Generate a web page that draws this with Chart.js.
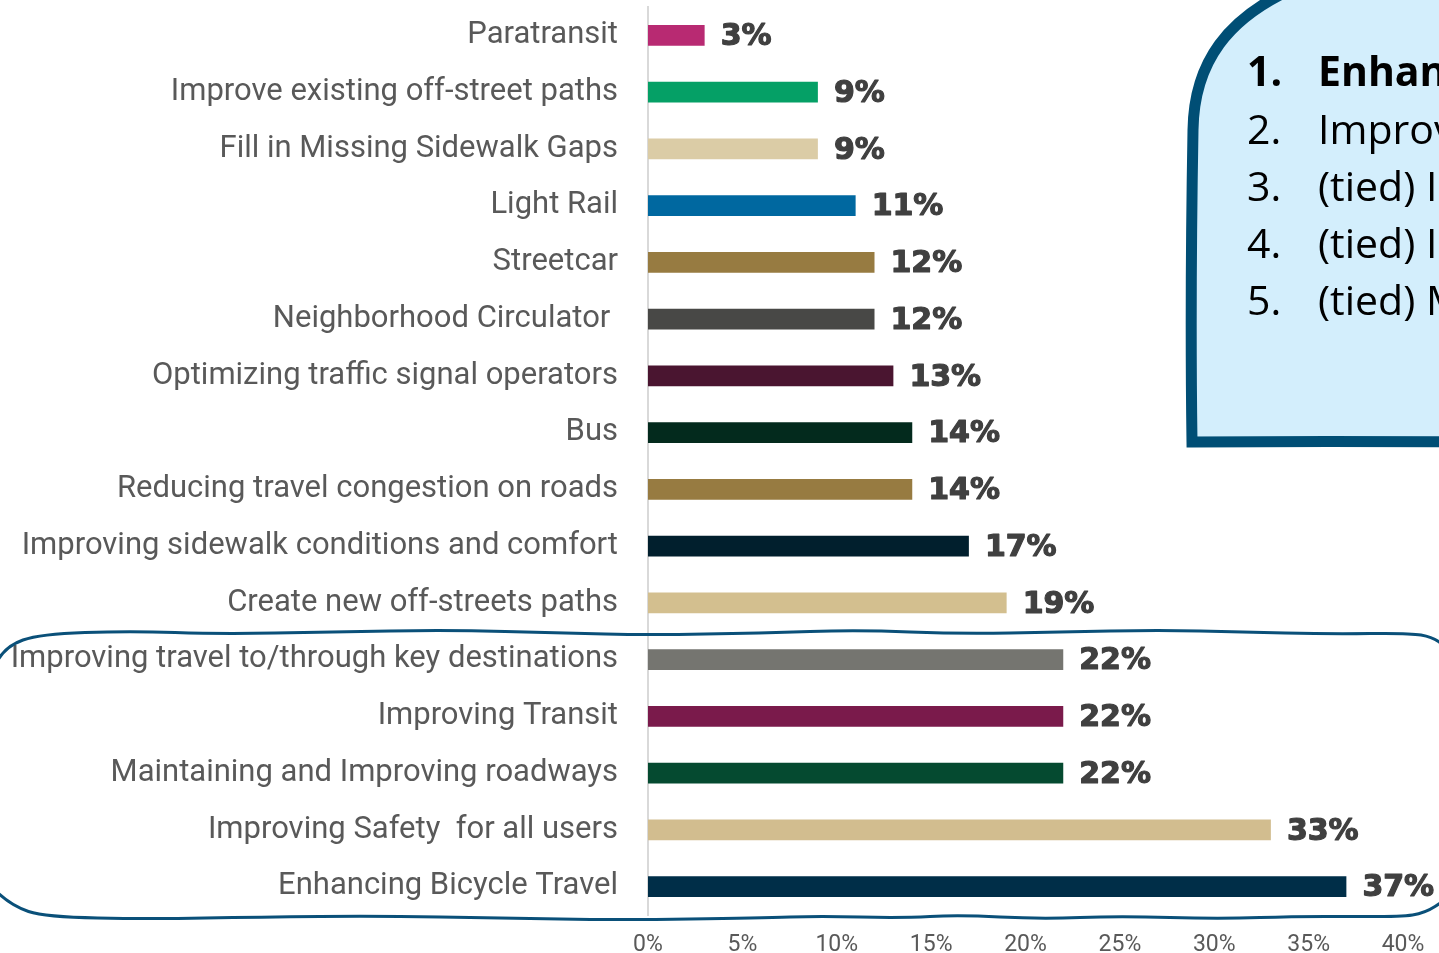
<!DOCTYPE html>
<html>
<head>
<meta charset="utf-8">
<script src="https://cdn.jsdelivr.net/npm/chart.js@4.4.0/dist/chart.umd.min.js"></script>
<style>
  html, body { margin:0; padding:0; background:#fff; overflow:hidden; }
  #wrap { position:relative; width:1439px; height:953px; overflow:hidden; }
  #chart { position:absolute; left:0; top:0; }
  .rank { position:absolute; left:1247px; font-family:'Open Sans', sans-serif; font-size:41px; color:#000; white-space:nowrap; line-height:1; }
  .rank span { display:inline-block; width:71px; }
  .rank.b { font-weight:bold; }
</style>
</head>
<body>
<div id="wrap">
  <canvas id="chart" width="1439" height="953"></canvas>
  <div class="rank b" style="top:50px"><span>1.</span>Enhancing Bicycle Travel</div>
  <div class="rank" style="top:108px"><span>2.</span>Improving Safety for all users</div>
  <div class="rank" style="top:165px"><span>3.</span>(tied) Improving travel to/through key destinations</div>
  <div class="rank" style="top:222px"><span>4.</span>(tied) Improving Transit</div>
  <div class="rank" style="top:279px"><span>5.</span>(tied) Maintaining and Improving roadways</div>
</div>
<script>
var categories = [
  'Paratransit',
  'Improve existing off-street paths',
  'Fill in Missing Sidewalk Gaps',
  'Light Rail',
  'Streetcar',
  'Neighborhood Circulator ',
  'Optimizing traffic signal operators',
  'Bus',
  'Reducing travel congestion on roads',
  'Improving sidewalk conditions and comfort',
  'Create new off-streets paths',
  'Improving travel to/through key destinations',
  'Improving Transit',
  'Maintaining and Improving roadways',
  'Improving Safety  for all users',
  'Enhancing Bicycle Travel'
];
var shares = [3, 9, 9, 11, 12, 12, 13, 14, 14, 17, 19, 22, 22, 22, 33, 37];
var barColors = ['#B82A72','#05A066','#DBCCA6','#0068A0','#977B41','#484846','#4A1530','#032A1D',
                 '#977B41','#011F2D','#D3BF8F','#757570','#7A1A4B','#054A30','#D2BD8F','#002E48'];
var tickValues = [0, 5, 10, 15, 20, 25, 30, 35, 40];

var labelFont = "'Roboto', sans-serif";
var outline = '#0A5079';

function smoothPath(ctx, pts){
  ctx.moveTo(pts[0][0], pts[0][1]);
  for (var i = 1; i < pts.length - 1; i++) {
    var mx = (pts[i][0] + pts[i+1][0]) / 2, my = (pts[i][1] + pts[i+1][1]) / 2;
    ctx.quadraticCurveTo(pts[i][0], pts[i][1], mx, my);
  }
  var l = pts[pts.length-1];
  ctx.lineTo(l[0], l[1]);
}

var decorations = {
  id: 'decorations',
  afterDraw: function(chart){
    var ctx = chart.ctx;
    ctx.save();
    // callout box
    ctx.beginPath();
    ctx.moveTo(1460, 442);
    ctx.quadraticCurveTo(1330, 441, 1192, 442);
    ctx.quadraticCurveTo(1190, 300, 1193, 130);
    ctx.bezierCurveTo(1194, 60, 1230, 18, 1290, -10);
    ctx.lineTo(1460, -10);
    ctx.closePath();
    ctx.fillStyle = '#D3EEFC';
    ctx.fill();
    ctx.lineWidth = 11;
    ctx.strokeStyle = '#004E75';
    ctx.stroke();

    // wavy outline round the top five
    ctx.beginPath();
    smoothPath(ctx, [[-2,660],[6,646],[40,634],[130,631],[220,634],[330,632],[450,630],[560,633],[650,635],[760,633],
      [860,630],[960,634],[1060,632],[1160,630],[1240,632],[1330,634],[1410,633],[1432,637],[1445,646]]);
    ctx.lineWidth = 3;
    ctx.strokeStyle = outline;
    ctx.stroke();
    ctx.beginPath();
    smoothPath(ctx, [[-2,893],[12,906],[45,917],[150,919],[260,917],[380,916],[500,918],[620,920],[760,918],[820,916],
      [900,918],[960,915],[1040,919],[1120,916],[1220,919],[1300,916],[1400,917],[1425,913],[1445,900]]);
    ctx.stroke();
    ctx.restore();
  }
};

var valueLabels = {
  id: 'valueLabels',
  afterDatasetsDraw: function(chart){
    var ctx = chart.ctx;
    var meta = chart.getDatasetMeta(0);
    ctx.save();
    ctx.font = "bold 30px 'DejaVu Sans', sans-serif";
    ctx.fillStyle = '#404040';
    ctx.strokeStyle = '#404040';
    ctx.lineWidth = 1.2;
    ctx.lineJoin = 'round';
    ctx.textAlign = 'left';
    ctx.textBaseline = 'middle';
    meta.data.forEach(function(bar, i){
      ctx.fillText(shares[i] + '%', bar.x + 16, bar.y + 2);
      ctx.strokeText(shares[i] + '%', bar.x + 16, bar.y + 2);
    });
    ctx.restore();
  }
};

new Chart(document.getElementById('chart'), {
  type: 'bar',
  data: {
    labels: categories,
    datasets: [{ data: shares, backgroundColor: barColors, barPercentage: 0.37, categoryPercentage: 1 }]
  },
  options: {
    indexAxis: 'y',
    responsive: false,
    animation: false,
    layout: { padding: { top: 7, right: 36, bottom: 0, left: 0 } },
    plugins: { legend: { display: false }, tooltip: { enabled: false } },
    scales: {
      x: {
        min: 0, max: 40,
        afterBuildTicks: function(s){ s.ticks = tickValues.map(function(v){ return { value: v }; }); },
        afterFit: function(s){ s.height = 38; s.paddingLeft = 0; s.paddingRight = 0; },
        grid: { display: false, drawTicks: false },
        border: { display: false },
        ticks: { padding: 16, color: '#595959', font: { family: labelFont, size: 23 },
                 callback: function(v){ return v + '%'; }, maxRotation: 0 }
      },
      y: {
        afterFit: function(s){ s.width = 648; s.paddingTop = 0; s.paddingBottom = 0; },
        grid: { display: false, drawTicks: false },
        border: { display: true, color: '#D9D9D9', width: 2 },
        ticks: { padding: 30, color: '#595959', font: { family: labelFont, size: 31 } }
      }
    }
  },
  plugins: [valueLabels, decorations]
});
</script>
</body>
</html>
